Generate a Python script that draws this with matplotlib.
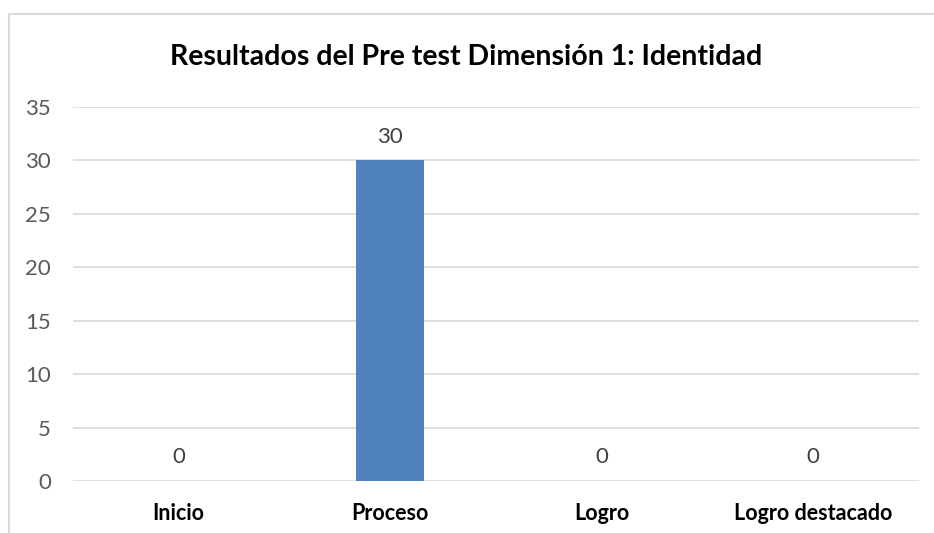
import matplotlib.pyplot as plt
from matplotlib.lines import Line2D

categories = ['Inicio', 'Proceso', 'Logro', 'Logro destacado']
values = [0, 30, 0, 0]
title = 'Resultados del Pre test Dimensión 1: Identidad'

plt.rcParams['font.family'] = ['Lato', 'DejaVu Sans']

W, H = 934, 533
fig = plt.figure(figsize=(W / 100, H / 100), dpi=100)
ax = fig.add_axes([73 / W, 1 - 481 / H, (919 - 73) / W, (481 - 107) / H])

x = range(len(categories))
bars = ax.bar(x, values, width=0.32, color='#4f81bd', zorder=3)
ax.set_xlim(-0.5, len(categories) - 0.5)
ax.set_ylim(0, 35)
ax.set_yticks(range(0, 36, 5))
ax.yaxis.grid(True, color='#d9d9d9', linewidth=1.2, zorder=0)

for s in ax.spines.values():
    s.set_visible(False)
ax.tick_params(axis='both', length=0)
ax.tick_params(axis='y', labelsize=16, labelcolor='#595959', pad=16)
ax.set_xticks(list(x))
ax.set_xticklabels(categories, fontsize=15.5, fontweight='bold', color='black')
ax.tick_params(axis='x', pad=16)

for b, v in zip(bars, values):
    ax.annotate(str(v), (b.get_x() + b.get_width() / 2, v), xytext=(0, 10),
                textcoords='offset points', ha='center', va='bottom',
                fontsize=16, color='#404040')

fig.text(466 / W, 1 - 57 / H, title, ha='center', va='center',
         fontsize=20.5, fontweight='bold', color='black')

# chart border (left and top edges visible)
fig.add_artist(Line2D([8.5 / W, 8.5 / W, 1], [0, 1 - 14 / H, 1 - 14 / H],
                      transform=fig.transFigure, color='#d9d9d9', linewidth=1.5))

fig.savefig('out.png', dpi=100)
